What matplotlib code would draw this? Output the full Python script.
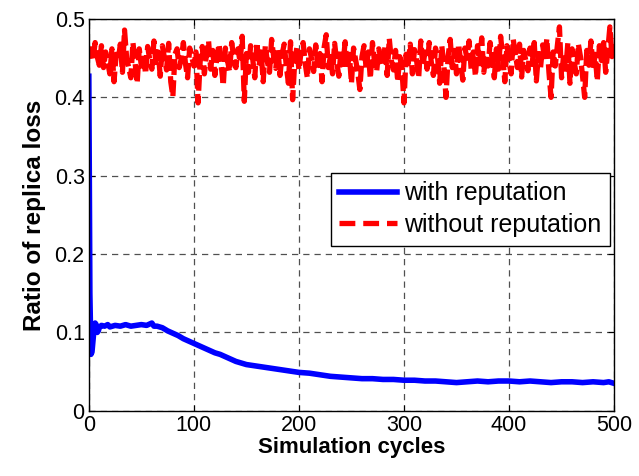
import matplotlib.pyplot as plt

# Reputation-based replica loss over simulation cycles
blue_cycles = [0, 1, 2, 3, 4, 5, 6, 7, 8, 9, 10, 12, 15, 18, 20, 25, 30, 35, 40, 45,
               50, 55, 60, 62, 65, 70, 75, 80, 85, 90, 95, 100, 105, 110, 115, 120,
               125, 130, 135, 140, 145, 150, 160, 170, 180, 190, 200, 210, 220, 230,
               240, 250, 260, 270, 280, 290, 300, 310, 320, 330, 340, 350, 360, 370,
               380, 390, 400, 410, 420, 430, 440, 450, 460, 470, 480, 490, 495, 500]
with_reputation = [0.427, 0.150, 0.072, 0.075, 0.090, 0.105, 0.112, 0.110, 0.100, 0.102,
                   0.106, 0.109, 0.108, 0.110, 0.107, 0.109, 0.108, 0.110, 0.108, 0.109,
                   0.110, 0.109, 0.112, 0.108, 0.108, 0.106, 0.102, 0.099, 0.096, 0.092,
                   0.089, 0.086, 0.083, 0.080, 0.077, 0.074, 0.072, 0.069, 0.066, 0.063,
                   0.061, 0.059, 0.057, 0.055, 0.053, 0.051, 0.049, 0.048, 0.046, 0.044,
                   0.043, 0.042, 0.041, 0.041, 0.040, 0.040, 0.039, 0.039, 0.038, 0.038,
                   0.037, 0.036, 0.037, 0.038, 0.037, 0.038, 0.038, 0.037, 0.038, 0.037,
                   0.036, 0.037, 0.037, 0.036, 0.037, 0.036, 0.037, 0.035]

# every second cycle, 0..500
red_cycles = list(range(0, 501, 2))
without_reputation = [
    0.455, 0.462, 0.448, 0.470, 0.452, 0.441, 0.466, 0.438, 0.458, 0.445,
    0.430, 0.462, 0.420, 0.455, 0.447, 0.468, 0.432, 0.486, 0.450, 0.438,
    0.425, 0.470, 0.445, 0.418, 0.462, 0.440, 0.455, 0.430, 0.465, 0.448,
    0.436, 0.472, 0.441, 0.458, 0.427, 0.466, 0.450, 0.435, 0.469, 0.420,
    0.401, 0.455, 0.462, 0.438, 0.449, 0.470, 0.443, 0.425, 0.463, 0.452,
    0.440, 0.458, 0.393, 0.446, 0.465, 0.430, 0.455, 0.472, 0.436, 0.460,
    0.428, 0.452, 0.468, 0.441, 0.415, 0.463, 0.447, 0.433, 0.470, 0.450,
    0.438, 0.462, 0.445, 0.478, 0.395, 0.456, 0.432, 0.466, 0.449, 0.425,
    0.470, 0.440, 0.458, 0.420, 0.466, 0.445, 0.432, 0.474, 0.451, 0.437,
    0.462, 0.428, 0.455, 0.468, 0.440, 0.418, 0.471, 0.397, 0.446, 0.463,
    0.435, 0.458, 0.470, 0.443, 0.425, 0.462, 0.450, 0.433, 0.467, 0.441,
    0.456, 0.420, 0.464, 0.480, 0.438, 0.452, 0.430, 0.469, 0.445, 0.427,
    0.460, 0.442, 0.471, 0.436, 0.455, 0.418, 0.463, 0.448, 0.432, 0.410,
    0.452, 0.466, 0.437, 0.458, 0.424, 0.470, 0.445, 0.433, 0.462, 0.450,
    0.440, 0.466, 0.428, 0.475, 0.447, 0.435, 0.460, 0.420, 0.452, 0.438,
    0.393, 0.455, 0.443, 0.468, 0.430, 0.461, 0.447, 0.425, 0.472, 0.440,
    0.458, 0.436, 0.470, 0.445, 0.428, 0.463, 0.451, 0.418, 0.466, 0.440,
    0.400, 0.452, 0.474, 0.438, 0.460, 0.430, 0.468, 0.445, 0.422, 0.463,
    0.450, 0.472, 0.435, 0.458, 0.427, 0.466, 0.443, 0.476, 0.432, 0.455,
    0.440, 0.470, 0.448, 0.425, 0.462, 0.436, 0.478, 0.452, 0.420, 0.466,
    0.445, 0.430, 0.474, 0.455, 0.438, 0.468, 0.426, 0.460, 0.447, 0.434,
    0.463, 0.442, 0.470, 0.421, 0.456, 0.438, 0.467, 0.448, 0.475, 0.432,
    0.400, 0.458, 0.440, 0.466, 0.490, 0.425, 0.455, 0.436, 0.470, 0.418,
    0.462, 0.445, 0.430, 0.468, 0.452, 0.427, 0.400, 0.460, 0.441, 0.472,
    0.436, 0.455, 0.421, 0.466, 0.447, 0.470, 0.432, 0.460, 0.490, 0.452,
    0.475,
]

x_ticks = [0, 100, 200, 300, 400, 500]
y_ticks = [0, 0.1, 0.2, 0.3, 0.4, 0.5]
y_tick_labels = ['0', '0.1', '0.2', '0.3', '0.4', '0.5']

plt.rcParams['font.family'] = ['Liberation Sans', 'DejaVu Sans']

fig = plt.figure(figsize=(6.39, 4.76), dpi=100)
ax = fig.add_axes([0.139, 0.137, 0.822, 0.823])

ax.plot(blue_cycles, with_reputation, color='#0000ff', lw=4.0, label='with reputation')
ax.plot(red_cycles, without_reputation, color='#ff0000', lw=3.8, linestyle='--',
        dashes=(3, 1), label='without reputation')

ax.set_xlim(0, 500)
ax.set_ylim(0, 0.5)
ax.set_xticks(x_ticks)
ax.set_yticks(y_ticks)
ax.set_yticklabels(y_tick_labels)
ax.tick_params(direction='in', length=4, width=0.8, labelsize=15.5,
               top=True, right=True, pad=3)

ax.grid(True, color='#505050', linestyle=(0, (5, 4)), linewidth=0.9)
for sp in ax.spines.values():
    sp.set_linewidth(1.0)

ax.set_xlabel('Simulation cycles', fontsize=16, fontweight='bold', labelpad=1)
ax.set_ylabel('Ratio of replica loss', fontsize=17.5, fontweight='bold', labelpad=6)

leg = ax.legend(loc='center right', bbox_to_anchor=(0.993, 0.515), fontsize=18,
                borderaxespad=0, handlelength=2.3, handletextpad=0.3, fancybox=False,
                framealpha=1, edgecolor='black', borderpad=0.35, labelspacing=0.3)
leg.get_frame().set_linewidth(1.0)
# legend samples use the longer MATLAB-like dashes
leg.get_lines()[1].set_dashes((3, 1.5))

fig.savefig('out.png', dpi=100)
